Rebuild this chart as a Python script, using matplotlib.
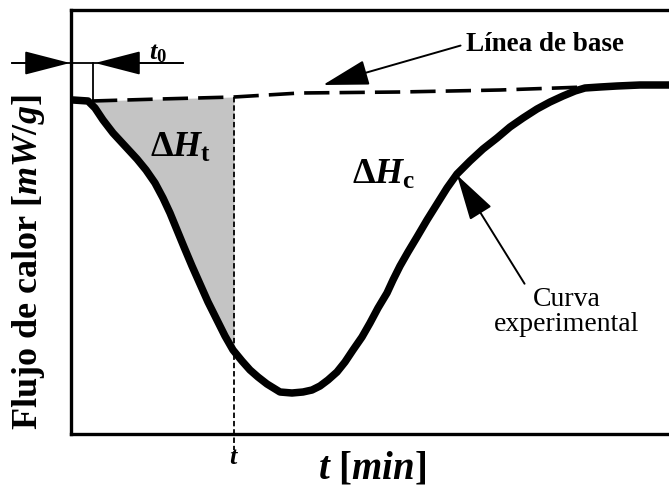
import numpy as np
import matplotlib
matplotlib.use("Agg")
import matplotlib.pyplot as plt

plt.rcParams["font.family"] = ["Liberation Serif", "DejaVu Serif"]
plt.rcParams["mathtext.fontset"] = "custom"
plt.rcParams["mathtext.rm"] = "Liberation Serif:bold"
plt.rcParams["mathtext.bf"] = "Liberation Serif:bold"
plt.rcParams["mathtext.it"] = "Liberation Serif:bold:italic"

# Experimental DSC curve (time in min, heat flow in mW/g)
time_min = [0.2, 1.7, 2.4, 3.2, 4.2, 5.4, 6.6, 7.5, 8.4, 9.2, 9.9, 10.6, 11.3,
            12.1, 12.9, 13.7, 14.6, 15.4, 16.2, 17.1, 17.9, 18.7, 19.6, 20.9,
            22.1, 23.2, 24.1, 24.9, 25.7, 26.6, 27.4, 28.2, 29.1, 29.9, 30.7,
            31.6, 32.2, 32.9, 33.7, 34.6, 35.6, 36.6, 37.6, 38.6, 39.9, 41.2,
            42.6, 43.9, 45.2, 46.6, 47.9, 49.2, 50.4, 51.4, 52.9, 54.6, 56.9,
            59.8, 61.0]
heat_flow = [0.00, -0.01, -0.08, -0.20, -0.33, -0.46, -0.59, -0.70, -0.83,
             -0.98, -1.13, -1.30, -1.47, -1.66, -1.84, -2.02, -2.20, -2.36,
             -2.50, -2.61, -2.70, -2.77, -2.84, -2.92, -2.93, -2.92, -2.90,
             -2.86, -2.80, -2.72, -2.62, -2.50, -2.37, -2.23, -2.08, -1.93,
             -1.80, -1.66, -1.52, -1.37, -1.20, -1.04, -0.88, -0.74, -0.61,
             -0.49, -0.38, -0.27, -0.18, -0.09, -0.02, 0.04, 0.09, 0.12, 0.13,
             0.14, 0.15, 0.15, 0.15]

# Extrapolated baseline
base_time = [2.1, 8.9, 16.3, 22.9, 32.9, 42.9, 51.4]
base_flow = [-0.01, 0.01, 0.03, 0.07, 0.08, 0.10, 0.13]

t_start = 2.2   # t0
t_cut = 16.3    # t

fig = plt.figure(figsize=(6.69, 4.88), dpi=100)
ax = fig.add_axes([71 / 669, 54 / 488, 609 / 669, 424 / 488])
ax.set_xlim(0, 60.9)
ax.set_ylim(-3.34, 0.90)

for side in ("left", "bottom", "top"):
    ax.spines[side].set_linewidth(2.4)
ax.spines["right"].set_visible(False)

# Shaded partial enthalpy between baseline and curve up to t
tt = np.array([t for t in time_min if t_start <= t <= t_cut] + [t_start, t_cut])
tt = np.unique(tt)
curve_vals = np.interp(tt, time_min, heat_flow)
base_vals = np.interp(tt, base_time, base_flow)
ax.fill_between(tt, curve_vals, base_vals, color="#c4c4c4", lw=0, zorder=1)

# Baseline
ax.plot(base_time, base_flow, color="black", lw=2.6, dashes=(7, 2.8), zorder=3)

# Experimental curve
ax.plot(time_min, heat_flow, color="black", lw=5.4, solid_capstyle="round",
        solid_joinstyle="round", zorder=4)

# Vertical marker at t
y_base_t = float(np.interp(t_cut, base_time, base_flow))
ax.plot([t_cut, t_cut], [y_base_t, -3.50], color="black", lw=1.3,
        dashes=(3, 1.6), clip_on=False, zorder=5)

# t0 marker
ax.plot([t_start, t_start], [0.0, 0.37], color="black", lw=1.3, clip_on=False)
ax.plot([-5.9, 11.2], [0.37, 0.37], color="black", lw=1.3, clip_on=False)
arrow_style = dict(arrowstyle="-|>,head_length=2.9,head_width=0.75",
                   color="black", lw=1.3, mutation_scale=10, shrinkA=0, shrinkB=0)
ax.annotate("", xy=(-0.1, 0.37), xytext=(-5.9, 0.37), arrowprops=arrow_style,
            annotation_clip=False)
ax.annotate("", xy=(2.4, 0.37), xytext=(11.2, 0.37), arrowprops=arrow_style,
            annotation_clip=False)
ax.text(7.8, 0.46, r"$t_0$", fontsize=19, ha="left", va="center")

# Labels inside the plot
ax.text(7.9, -0.48, r"$\Delta H_{\mathrm{t}}$", fontsize=26, ha="left", va="center")
ax.text(28.1, -0.75, r"$\Delta H_{\mathrm{c}}$", fontsize=26, ha="left", va="center")

ax.annotate("Línea de base", xy=(25.2, 0.15), xytext=(39.5, 0.56),
            fontsize=19.5, fontweight="bold", ha="left", va="center",
            arrowprops=dict(arrowstyle="-|>,head_length=2.9,head_width=0.8",
                            color="black", lw=1.4, mutation_scale=10,
                            shrinkA=2, shrinkB=0, relpos=(0, 0.5)))

ax.annotate("Curva\nexperimental", xy=(38.6, -0.75), xytext=(49.6, -2.12),
            fontsize=20, ha="center", va="center", linespacing=1.05,
            arrowprops=dict(arrowstyle="-|>,head_length=2.9,head_width=0.8",
                            color="black", lw=1.4, mutation_scale=10,
                            shrinkA=0, shrinkB=0, relpos=(0.22, 1.0)))

# Axis labels and ticks
ax.set_yticks([])
ax.set_xticks([t_cut], [r"$t$"])
ax.tick_params(axis="x", length=0, pad=9, labelsize=19)
ax.set_ylabel(r"Flujo de calor [$mW/g$]", fontsize=26, fontweight="bold")
ax.yaxis.set_label_coords(-0.040, 0.405)
ax.set_xlabel(r"$t$ [$min$]", fontsize=28, fontweight="bold")
ax.xaxis.label.set_va("center")
ax.xaxis.set_label_coords(0.494, -0.083)

fig.savefig("out.png", dpi=100)
